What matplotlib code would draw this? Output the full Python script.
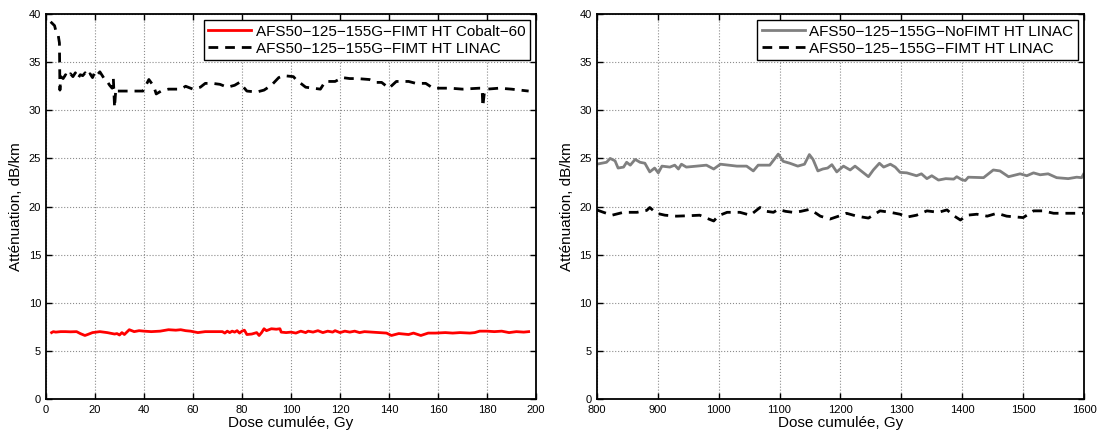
import numpy as np
import matplotlib
matplotlib.use('Agg')
import matplotlib.pyplot as plt

plt.rcParams['font.family'] = ['Liberation Sans', 'DejaVu Sans']

# Left panel: 0-200 Gy
linac_left_x = [1.9, 3.5, 4.0, 5.0, 5.5, 5.7, 6.0,
                7, 8, 9, 10, 11, 12, 13, 14, 15, 16, 17, 18, 19, 20, 21, 22, 23, 24, 25, 26, 27,
                27.5, 28, 28.5, 29, 30,
                35, 39.6, 42, 44, 45, 47, 50, 55, 57, 60,
                63, 65, 68, 71, 74, 77, 79, 82, 86, 89,
                92, 95, 97, 101, 102, 104, 106, 109, 112, 114,
                118, 121, 124, 127, 132, 135, 137, 140, 143, 148,
                151, 155, 158, 165, 170, 177, 178, 178.3, 179, 180,
                185, 190, 197]
linac_left_y = [39.2, 38.8, 38.3, 37.8, 37.0, 32.1, 33.5,
                33.3, 33.7, 33.4, 33.8, 33.5, 33.9, 33.3, 33.7, 33.6, 33.9, 33.5, 33.8, 33.4, 34.0,
                33.7, 34.0, 33.6, 33.2, 33.0, 32.6, 32.3,
                33.3, 30.3, 32.2, 32.0, 32.0,
                32.0, 32.0, 33.2, 32.5, 31.7, 32.0, 32.2, 32.2, 32.5, 32.2,
                32.4, 32.8, 32.8, 32.7, 32.4, 32.6, 32.9, 32.0, 31.9, 32.1,
                32.6, 33.4, 33.6, 33.5, 33.2, 32.8, 32.4, 32.3, 32.2, 33.0,
                33.0, 33.4, 33.3, 33.3, 33.2, 32.9, 32.9, 32.3, 33.0, 33.0,
                32.8, 32.8, 32.3, 32.3, 32.2, 32.3, 32.3, 30.4, 32.0, 32.2,
                32.3, 32.2, 32.0]

cobalt_x = [2.3, 3, 4, 6, 8, 10, 12.5, 14, 15.9, 17, 19, 22, 25, 28, 29, 30, 31, 32, 34, 36,
            38, 40, 43, 46.6, 50, 53, 55, 57, 59, 62, 65, 68, 72, 73, 74, 75, 76, 77, 78, 79,
            80, 81, 82, 84, 86, 87, 88, 89, 90, 92, 94, 95.5, 96, 98, 100, 102, 104, 106, 107, 109,
            111, 113, 115, 117, 118, 120, 122, 124, 126, 128, 130, 133, 136, 139, 141, 144, 148, 150, 153, 156,
            159, 163, 166, 169, 173, 175, 177, 180, 183, 186, 189, 192, 195, 197]
cobalt_y = [6.9, 7.0, 6.95, 7.0, 7.0, 6.98, 7.0, 6.8, 6.6, 6.7, 6.9, 7.0, 6.9, 6.75, 6.8, 6.65, 6.9, 6.7, 7.2, 7.0,
            7.1, 7.05, 7.0, 7.05, 7.2, 7.15, 7.2, 7.1, 7.05, 6.9, 7.0, 7.0, 7.0, 6.85, 7.05, 6.9, 7.05, 6.95, 7.1, 6.85,
            7.05, 7.15, 6.7, 6.75, 6.9, 6.6, 6.9, 7.3, 7.1, 7.3, 7.25, 7.3, 6.95, 6.9, 6.95, 6.85, 7.05, 6.9, 7.05, 6.95,
            7.1, 6.9, 7.05, 6.95, 7.1, 6.9, 7.05, 6.95, 7.05, 6.9, 7.0, 6.95, 6.9, 6.85, 6.6, 6.8, 6.7, 6.85, 6.6, 6.85,
            6.85, 6.9, 6.85, 6.9, 6.85, 6.9, 7.05, 7.05, 7.0, 7.05, 6.9, 7.0, 6.95, 7.0]

# Right panel: 800-1600 Gy
nofimt_x = [800, 816, 822, 830, 835, 844, 849, 855, 863, 871,
            879, 887, 895, 901, 907, 920, 928, 934, 939, 947,
            964, 980, 992, 1003, 1030, 1046, 1057, 1065, 1084, 1098,
            1106, 1117, 1130, 1141, 1149, 1155, 1163, 1171, 1179, 1186,
            1194, 1205, 1216, 1224, 1246, 1254, 1264, 1271, 1282, 1290,
            1298, 1309, 1325, 1333, 1342, 1350, 1361, 1373, 1386, 1391,
            1399, 1405, 1410, 1435, 1451, 1462, 1476, 1495, 1506, 1517,
            1528, 1541, 1555, 1574, 1588, 1596, 1599]
nofimt_y = [24.4, 24.6, 25.0, 24.75, 24.0, 24.1, 24.6, 24.3, 24.9, 24.6,
            24.5, 23.6, 24.0, 23.5, 24.2, 24.1, 24.3, 23.9, 24.4, 24.1,
            24.2, 24.3, 23.9, 24.4, 24.2, 24.2, 23.7, 24.3, 24.3, 25.45,
            24.7, 24.5, 24.2, 24.4, 25.4, 24.9, 23.7, 23.9, 24.0, 24.35,
            23.6, 24.2, 23.8, 24.2, 23.1, 23.8, 24.5, 24.1, 24.4, 24.1,
            23.55, 23.5, 23.2, 23.4, 22.9, 23.2, 22.75, 22.9, 22.85, 23.1,
            22.8, 22.7, 23.05, 23.0, 23.8, 23.7, 23.1, 23.4, 23.2, 23.5,
            23.3, 23.4, 23.0, 22.9, 23.05, 23.0, 23.35]

linac_right_x = [800, 811, 825, 844, 866, 882, 887, 898, 912, 931,
                 953, 969, 980, 992, 1000, 1014, 1035, 1052, 1068, 1079,
                 1090, 1098, 1110, 1122, 1135, 1149, 1160, 1167, 1183, 1197,
                 1210, 1227, 1246, 1265, 1282, 1298, 1309, 1325, 1342, 1361,
                 1375, 1386, 1397, 1408, 1424, 1441, 1457, 1473, 1500, 1517,
                 1533, 1550, 1575, 1599]
linac_right_y = [19.65, 19.4, 19.1, 19.4, 19.4, 19.6, 19.9, 19.3, 19.1, 19.0,
                 19.05, 19.1, 18.8, 18.5, 19.05, 19.4, 19.4, 19.1, 19.9, 19.5,
                 19.4, 19.7, 19.5, 19.4, 19.5, 19.7, 19.3, 19.0, 18.7, 19.0,
                 19.3, 19.0, 18.8, 19.55, 19.4, 19.2, 18.9, 19.1, 19.55, 19.4,
                 19.65, 19.05, 18.6, 19.1, 19.2, 19.0, 19.3, 19.0, 18.85, 19.55,
                 19.55, 19.3, 19.3, 19.3]

label_cobalt = 'AFS50\u2212125\u2212155G\u2212FIMT HT Cobalt\u221260'
label_linac = 'AFS50\u2212125\u2212155G\u2212FIMT HT LINAC'
label_nofimt = 'AFS50\u2212125\u2212155G\u2212NoFIMT HT LINAC'

fig = plt.figure(figsize=(10.97, 4.32), dpi=100)
ax1 = fig.add_axes([0.0419, 0.0764, 0.4467, 0.891])
ax2 = fig.add_axes([0.544, 0.0764, 0.4442, 0.891])

dash = (3.5, 2.5)

ax1.plot(cobalt_x, cobalt_y, color='red', lw=2, label=label_cobalt)
ax1.plot(linac_left_x, linac_left_y, color='black', lw=2, ls='--', dashes=dash, label=label_linac)
ax1.set_xlim(0, 200)
ax1.set_xticks(np.arange(0, 201, 20))

ax2.plot(nofimt_x, nofimt_y, color='#808080', lw=2, label=label_nofimt)
ax2.plot(linac_right_x, linac_right_y, color='black', lw=2, ls='--', dashes=dash, label=label_linac)
ax2.set_xlim(800, 1600)
ax2.set_xticks(np.arange(800, 1601, 100))

for ax in (ax1, ax2):
    ax.set_ylim(0, 40)
    ax.set_yticks(np.arange(0, 41, 5))
    ax.grid(True, ls=':', color='0.55', lw=0.8)
    ax.tick_params(direction='in', top=True, right=True, labelsize=8, length=4, width=1)
    ax.tick_params(axis='x', pad=4)
    for s in ax.spines.values():
        s.set_linewidth(1.3)
    ax.set_xlabel('Dose cumulée, Gy', fontsize=11, labelpad=1)
    ax.set_ylabel('Atténuation, dB/km', fontsize=11, labelpad=4)
    leg = ax.legend(loc='upper right', fontsize=11, fancybox=False, framealpha=1,
                    edgecolor='black', borderpad=0.3, labelspacing=0.2, handlelength=2.8,
                    handletextpad=0.3, borderaxespad=0.4)
    leg.get_frame().set_linewidth(1.0)

plt.savefig('out.png', dpi=100)
